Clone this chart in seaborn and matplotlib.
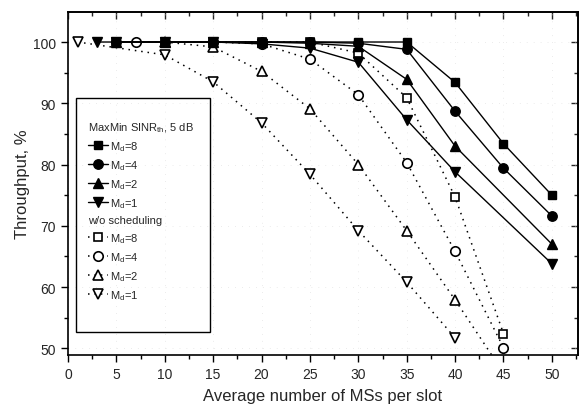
import matplotlib
matplotlib.use("Agg")
import matplotlib.pyplot as plt
from matplotlib.lines import Line2D
from matplotlib.patches import Rectangle
from matplotlib.ticker import MultipleLocator
import seaborn as sns

sns.set_style("ticks")
plt.rcParams["font.family"] = ["Liberation Sans", "DejaVu Sans"]
plt.rcParams["mathtext.default"] = "regular"

# MaxMin SINR_th scheduling (filled markers, solid lines)
x_mm8 = [5, 10, 15, 20, 25, 30, 35, 40, 45, 50]
y_mm8 = [100, 100, 100, 100, 100, 100, 100, 93.4, 83.4, 75.0]
x_mm4 = [5, 10, 15, 20, 25, 30, 35, 40, 45, 50]
y_mm4 = [100, 100, 100, 100, 100, 99.8, 98.8, 88.7, 79.4, 71.6]
x_mm2 = [5, 10, 15, 20, 25, 30, 35, 40, 50]
y_mm2 = [100, 100, 100, 100, 99.8, 99.3, 93.9, 83.0, 67.0]
x_mm1 = [3, 5, 10, 15, 20, 25, 30, 35, 40, 50]
y_mm1 = [100, 100, 100, 100, 99.7, 99.0, 96.7, 87.3, 78.8, 63.8]

# without scheduling (open markers, dotted lines)
x_ns8 = [5, 10, 15, 20, 25, 30, 35, 40, 45]
y_ns8 = [100, 100, 100, 100, 100, 98.2, 90.9, 74.7, 52.4]
x_ns4 = [7, 15, 20, 25, 30, 35, 40, 45]
y_ns4 = [100, 100, 99.7, 97.2, 91.4, 80.3, 65.8, 50.1]
x_ns2 = [10, 15, 20, 25, 30, 35, 40, 45]
y_ns2 = [100, 99.2, 95.2, 89.1, 80.0, 69.2, 57.9, 46.0]
x_ns1 = [1, 10, 15, 20, 25, 30, 35, 40]
y_ns1 = [100, 97.9, 93.5, 86.8, 78.4, 69.2, 60.8, 51.7]

md_labels = ["M$_d$=8", "M$_d$=4", "M$_d$=2", "M$_d$=1"]
title_mm = "MaxMin SINR$_{th}$, 5 dB"
title_ns = "w/o scheduling"
x_label = "Average number of MSs per slot"
y_label = "Throughput, %"

text_color = "0.15"

fig = plt.figure(figsize=(5.84, 4.10), dpi=100)
ax = fig.add_axes([68 / 584, 1 - 356 / 410, 510 / 584, 343 / 410])

dot = (0, (1, 3.2))
markers = ["s", "o", "^", "v"]
msizes = [6.3, 6.8, 7.3, 7.3]

mm_series = [(x_mm8, y_mm8), (x_mm4, y_mm4), (x_mm2, y_mm2), (x_mm1, y_mm1)]
ns_series = [(x_ns8, y_ns8), (x_ns4, y_ns4), (x_ns2, y_ns2), (x_ns1, y_ns1)]

for (xs, ys), m, ms in zip(ns_series, markers, msizes):
    sns.lineplot(x=xs, y=ys, ax=ax, color="k", linestyle=dot, linewidth=1.1,
                 marker=m, markersize=ms, markerfacecolor="white",
                 markeredgecolor="k", markeredgewidth=1.2, legend=False)
for (xs, ys), m, ms in zip(mm_series, markers, msizes):
    sns.lineplot(x=xs, y=ys, ax=ax, color="k", linestyle="-", linewidth=1.0,
                 marker=m, markersize=ms, markerfacecolor="k",
                 markeredgecolor="k", markeredgewidth=1.0, legend=False)

ax.set_xlim(0, 52.7)
ax.set_ylim(48.9, 104.9)
ax.xaxis.set_major_locator(MultipleLocator(5))
ax.xaxis.set_minor_locator(MultipleLocator(2.5))
ax.yaxis.set_major_locator(MultipleLocator(10))
ax.yaxis.set_minor_locator(MultipleLocator(5))
ax.grid(True, which="major", color="0.85", linestyle=(0, (1, 9)), linewidth=0.5)

ax.tick_params(which="both", bottom=True, left=True, top=False, right=False,
               direction="out", width=1.0, labelsize=10, colors="k",
               labelcolor=text_color)
ax.tick_params(which="major", length=5)
ax.tick_params(which="minor", length=3)
sec_x = ax.secondary_xaxis("top")
sec_x.xaxis.set_major_locator(MultipleLocator(5))
sec_x.xaxis.set_minor_locator(MultipleLocator(2.5))
sec_x.tick_params(which="both", direction="in", labeltop=False, width=1.0)
sec_x.tick_params(which="major", length=5)
sec_x.tick_params(which="minor", length=3)
sec_y = ax.secondary_yaxis("right")
sec_y.yaxis.set_major_locator(MultipleLocator(10))
sec_y.yaxis.set_minor_locator(MultipleLocator(5))
sec_y.tick_params(which="both", direction="in", labelright=False, width=1.0)
sec_y.tick_params(which="major", length=5)
sec_y.tick_params(which="minor", length=3)

for sp in ax.spines.values():
    sp.set_color("k")
    sp.set_linewidth(1.2)
for s in (sec_x, sec_y):
    for sp in s.spines.values():
        sp.set_linewidth(1.2)
        sp.set_color("k")

ax.set_xlabel(x_label, fontsize=12, labelpad=5, color=text_color)
ax.set_ylabel(y_label, fontsize=12, labelpad=2, color=text_color)

# legend
blank = Line2D([], [], linestyle="none", marker=None)
handles = [blank]
labels = [title_mm]
for m, ms, lab in zip(markers, msizes, md_labels):
    handles.append(Line2D([], [], color="k", linestyle="-", linewidth=1.0,
                          marker=m, markersize=ms, markerfacecolor="k",
                          markeredgecolor="k"))
    labels.append(lab)
handles.append(blank)
labels.append(title_ns)
for m, ms, lab in zip(markers, msizes, md_labels):
    handles.append(Line2D([], [], color="k", linestyle=dot, linewidth=1.1,
                          marker=m, markersize=ms, markerfacecolor="white",
                          markeredgecolor="k", markeredgewidth=1.2))
    labels.append(lab)

leg = ax.legend(handles, labels, loc="upper left",
                bbox_to_anchor=((88 - 68) / 510, (356 - 121) / 343),
                frameon=False, fontsize=8, handlelength=1.8,
                handletextpad=0.2, labelspacing=0.48, borderpad=0,
                borderaxespad=0, labelcolor=text_color)
rows = leg._legend_handle_box.get_children()[0].get_children()
for i in (0, 5):
    rows[i].get_children()[0].width = 0
    rows[i].sep = 0

ax.add_patch(Rectangle((8 / 510, 23 / 343), 134 / 510, 234 / 343,
                       transform=ax.transAxes, fill=False, edgecolor="k",
                       linewidth=1.0, zorder=4))

fig.savefig("out.png", dpi=100)
